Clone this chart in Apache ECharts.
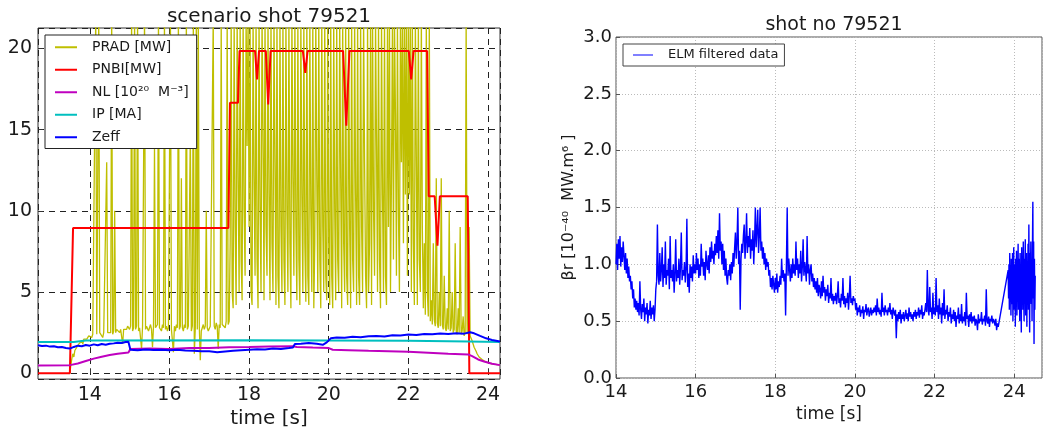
<!DOCTYPE html>
<html>
<head>
<meta charset="utf-8">
<script src="https://cdn.jsdelivr.net/npm/echarts@6/dist/echarts.min.js"></script>
<style>html,body{margin:0;padding:0;background:#fff}#c{width:1044px;height:434px}</style>
</head>
<body>
<div id="c"></div>
<script>
// ---- left panel data ----
const leftTitle = 'scenario shot 79521';
const rightTitle = 'shot no 79521';
const leftXTicks = [14, 16, 18, 20, 22, 24];
const leftYTicks = [0, 5, 10, 15, 20];

const pradStart = 13.5, pradStep = 0.025;
const pradValues = [
 0,0.5,0.9,1.2,1.0,1.4,1.3,1.6,1.5,1.8,1.7,1.9,2.0,1.8,2.1,2.0,2.2,2.1,2.2,2.3,
 2.2,2.3,2.2,2.4,2.3,2.5,22,2.4,2.3,22,2.5,2.4,2.6,2.2,2.5,2.6,2.4,13,2.5,2.6,
 2.6,2.5,22,2.4,2.6,10,2.5,2.7,2.6,2.8,2.5,2.7,2.6,1.8,2.7,2.8,2.6,2.7,2.9,2.8,
 2.7,2.9,22,2.6,2.8,22,2.7,2.9,22,2.6,2.8,2.7,1.5,2.9,2.8,22,2.7,2.9,2.8,2.6,
 2.8,3.0,2.7,1.6,2.9,14,2.8,2.7,3.0,22,2.8,2.9,2.6,3.0,2.8,22,2.7,2.9,2.6,2.8,
 2.9,22,2.7,2.8,1.3,2.9,2.6,3.0,2.8,22,2.7,2.9,12,2.8,2.6,3.0,2.8,22,2.7,2.9,
 2.8,15,2.6,2.9,22,1.2,2.8,22,2.7,22,2.9,0.8,2.6,2.8,3.0,2.7,2.9,10,2.8,2.6,
 2.7,2.9,3.0,2.8,22,2.9,2.7,3.1,2.9,1.5,3.0,2.8,22,3.0,2.9,3.1,2.8,3.2,22,3.0,
 3.2,8,22,5,4.0,22,9,4.2,22,12,5,22,7,4.5,22,10,6,22,14,22,
 9,22,5,4.2,22,12,6,22,7,4.0,22,10,5,22,15,4.5,22,9,6,22,
 11,4.5,22,8,5,22,13,4.2,22,6,4.0,22,9,5,22,7,4.2,22,10,5,
 22,8,4.0,22,12,6,22,9,4.5,22,7,4.2,22,11,5,22,8,4.4,22,6,
 4.2,22,10,5,22,4.0,8,22,12,5,22,7,4.0,22,9,5,22,6,4.5,22,
 8,4.2,22,6,4.0,22,10,4.5,22,7,5,22,12,4.0,22,8,5,22,6,4.2,
 22,9,4.0,22,7,5,22,11,4.2,22,6,4.2,22,9,5,22,13,6,4.0,22,
 5,8,22,4.2,22,10,6,22,14,5,22,7,4.0,22,11,5,22,6,4.2,22,
 9,22,5,12,22,7,22,16,6,22,10,5,22,13,22,8,22,11,22,6,
 22,11,22,5,22,8,4.2,22,13,4.2,22,7,5,22,9,4.0,8,3.6,22,5,
 3.5,22,3.2,4.5,3.0,8,3.3,2.9,12,3.1,2.8,5,2.9,12,3.0,2.7,6,2.8,2.6,4,
 2.7,10,2.6,2.8,5,2.5,2.7,8,2.6,2.4,4,2.5,9,2.4,2.6,3.5,2.3,2.5,22,2.4,
 2.5,9,2.3,2.2,2.0,1.8,1.6,1.5,1.35,1.2,1.1,1.0,0.95,0.9,0.85,0.8,0.75,0.72,0.7,0.68,
 0.66,0.64,0.62,0.6,0.58,0.57,0.56,0.55,0.54,0.53,0.52,0.51,0.5
];

const pnbi = [[12.7,0],[13.5,0],[13.58,8.95],[17.48,8.95],[17.52,16.65],[17.72,16.65],[17.76,19.85],
 [18.15,19.85],[18.2,18.1],[18.25,19.85],[18.42,19.85],[18.48,16.55],[18.54,19.85],
 [19.35,19.85],[19.41,18.5],[19.47,19.85],[20.36,19.85],[20.44,15.25],[20.52,19.85],
 [22.01,19.85],[22.07,18.1],[22.13,19.85],[22.47,19.85],[22.51,10.9],[22.66,10.9],[22.73,7.85],[22.79,10.9],
 [23.49,10.9],[23.53,0],[24.3,0]];

const nl = [[12.7,0.48],[13.5,0.5],[13.7,0.6],[13.9,0.75],[14.1,0.9],[14.3,1.02],[14.5,1.12],[14.7,1.2],
 [14.97,1.28],[15.02,1.5],[15.5,1.52],[16,1.5],[16.5,1.55],[17,1.56],[17.5,1.6],[18,1.62],[18.5,1.65],
 [19.1,1.66],[19.2,1.62],[19.6,1.58],[20.0,1.55],[20.1,1.45],[20.5,1.42],[21,1.38],[21.5,1.35],[22,1.32],
 [22.5,1.26],[23,1.2],[23.5,1.16],[23.6,1.05],[23.75,0.85],[23.9,0.72],[24.1,0.58],[24.3,0.5]];

const ip = [[12.7,1.92],[13.6,1.93],[13.9,2.02],[18,2.03],[22,2.0],[23.5,1.95],[24.3,1.92]];

const zeff = [[12.7,1.72],[12.8,1.68],[12.9,1.7],[13.0,1.64],[13.1,1.66],[13.2,1.6],[13.3,1.62],[13.4,1.55],
 [13.5,1.52],[13.6,1.62],[13.7,1.7],[13.8,1.66],[13.9,1.74],[14.0,1.7],[14.1,1.78],[14.2,1.72],[14.3,1.8],
 [14.4,1.76],[14.5,1.82],[14.6,1.84],[14.7,1.88],[14.8,1.86],[14.9,1.92],[14.97,1.94],[15.02,1.45],
 [15.2,1.42],[15.4,1.46],[15.6,1.43],[15.8,1.45],[16.0,1.42],[16.2,1.44],[16.4,1.4],[16.6,1.38],[16.8,1.35],
 [17.0,1.36],[17.2,1.3],[17.4,1.34],[17.6,1.38],[17.8,1.42],[18.0,1.45],[18.2,1.48],[18.4,1.46],[18.6,1.52],
 [18.8,1.5],[19.0,1.55],[19.1,1.58],[19.15,1.8],[19.3,1.82],[19.5,1.86],[19.7,1.82],[19.85,1.75],[19.95,1.9],
 [20.05,2.15],[20.2,2.2],[20.4,2.18],[20.6,2.25],[20.8,2.22],[21.0,2.28],[21.2,2.3],[21.4,2.26],[21.6,2.34],
 [21.8,2.32],[22.0,2.38],[22.2,2.35],[22.4,2.42],[22.6,2.4],[22.8,2.45],[23.0,2.42],[23.2,2.46],[23.4,2.44],
 [23.55,2.52],[23.65,2.46],[23.8,2.3],[23.95,2.15],[24.1,2.05],[24.3,1.95]];

// ---- right panel data ----
const betaStart1 = 14.0, betaStep1 = 0.02;
const betaValues1 = [
 1.0,1.18,0.95,1.22,1.05,1.25,0.98,1.15,1.02,1.2,1.08,0.95,1.1,0.92,1.05,0.88,0.98,0.85,0.9,0.78,0.85,0.7,0.78,0.62,0.7,
 0.6,0.68,0.58,0.66,0.55,0.85,0.6,0.52,0.65,0.58,0.7,0.5,0.62,0.56,0.66,0.48,0.6,0.55,0.68,0.52,0.62,0.56,0.64,0.5,0.6,
 0.78,0.85,1.35,0.9,0.82,1.1,0.85,0.95,1.15,0.8,1.0,0.88,1.2,0.82,0.95,0.9,1.05,0.78,1.25,0.88,0.95,0.85,1.0,0.75,0.92,
 1.22,0.85,0.95,0.88,1.05,0.82,0.98,1.28,0.86,0.95,0.9,1.02,0.84,0.96,1.4,0.8,0.92,0.75,1.0,0.88,0.98,0.85,1.08,0.92,1.0,
 0.92,1.1,0.95,1.05,0.88,1.0,0.9,1.18,0.98,1.05,0.9,1.02,0.86,1.12,1.0,0.95,1.08,0.92,1.15,1.02,1.2,1.05,1.12,1.0,1.18,
 1.08,1.25,1.1,1.3,1.05,1.45,1.12,1.2,1.0,1.18,0.95,1.12,0.9,1.05,0.88,0.82,0.95,0.9,1.0,0.86,1.02,0.92,1.1,0.98,1.15,
 1.28,1.05,1.2,1.5,1.0,1.12,0.6,1.05,1.18,1.1,1.25,1.35,1.05,1.2,1.45,1.1,1.25,1.15,1.32,1.05,1.22,1.12,1.3,1.0,1.2,
 1.5,1.15,1.3,1.48,1.1,1.25,1.5,1.12,1.2,1.05,1.15,1.0,1.1,0.95,1.05,0.98,1.02,0.9,0.95,0.8,0.88,0.78,0.9,0.82,0.75,
 0.88,0.78,0.92,0.75,0.85,0.8,0.9,0.82,1.05,0.88,0.95,0.85,0.92,0.55,1.0,1.5,0.9,1.05,0.95,0.85,1.0,0.88,1.05,0.92,1.0,
 0.9,1.2,0.95,1.05,0.88,1.0,0.92,1.12,0.85,0.98,1.22,0.9,1.02,0.95,0.85,1.25,0.92,1.0,0.82,0.95,1.0,0.85,0.92,0.8,0.88,
 0.78,0.85,0.75,0.88,0.72,0.82,0.78,0.7,0.85,0.72,0.9,0.75,0.8,0.68,0.78,0.72,0.82,0.66,0.75,0.7,0.88,0.68,0.74,0.65,0.72,
 0.68,0.75,0.65,0.72,0.85,0.66,0.7,0.62,0.74,0.68,0.88,0.65,0.72,0.62,0.7,0.66,0.75,0.6,0.72,0.9,0.66,0.7,0.64,0.72,0.68,
 0.7,0.6,0.66,0.55,0.62,0.58,0.64,0.54,0.6,0.57,0.63,0.52,0.6,0.58,0.65,0.55,0.6,0.62,0.54,0.58,0.62,0.55,0.6,0.57,0.62,
 0.58,0.64,0.55,0.7,0.58,0.62,0.56,0.6,0.54,0.75,0.58,0.62,0.55,0.64,0.58,0.6,0.55,0.62,0.58,0.66,0.56,0.6,0.52,0.62,0.58,
 0.55,0.6,0.35,0.56,0.5,0.58,0.52,0.6,0.48,0.56,0.52,0.58,0.5,0.55,0.6,0.52,0.57,0.5,0.62,0.54,0.58,0.52,0.56,0.5,0.58,
 0.54,0.6,0.52,0.58,0.55,0.62,0.53,0.6,0.56,0.64,0.52,0.58,0.55,0.6,0.66,0.58,0.95,0.6,0.55,0.8,0.58,0.62,0.52,0.75,0.56,
 0.62,0.55,0.88,0.58,0.64,0.52,0.7,0.56,0.62,0.48,0.66,0.55,0.78,0.52,0.6,0.56,0.64,0.5,0.58,0.54,0.62,0.48,0.56,0.52,0.6,
 0.5,0.58,0.45,0.55,0.52,0.62,0.48,0.56,0.5,0.65,0.48,0.54,0.5,0.58,0.46,0.75,0.52,0.55,0.45,0.56,0.5,0.58,0.48,0.54,0.5,
 0.55,0.46,0.52,0.5,0.42,0.56,0.48,0.52,0.5,0.58,0.47,0.52,0.5,0.55,0.46,0.78,0.5,0.48,0.54,0.45,0.52,0.5,0.55,0.48,0.52,
 0.5,0.46,0.52,0.42,0.48,0.45
];
const betaStart2 = 23.85, betaStep2 = 0.01;
const betaValues2 = [
 0.95,0.7,1.0,0.6,1.1,0.75,0.95,0.55,1.05,0.8,
 0.65,1.1,0.5,0.9,1.15,0.6,0.85,1.0,0.45,1.05,
 0.75,1.12,0.55,0.95,0.7,1.18,0.6,0.9,1.05,0.5,
 1.1,0.7,0.95,0.4,1.15,0.8,1.0,0.6,1.2,0.75,
 0.5,1.05,0.85,1.22,0.55,0.95,1.1,0.45,1.0,0.7,
 1.18,0.6,1.35,0.8,0.4,1.1,0.9,1.2,0.65,1.0,
 0.5,1.15,1.55,0.7,1.2,0.3,1.05,0.6,0.9
];

const F = '"DejaVu Sans", sans-serif';
const toPairs = (t0, dt, vals) => vals.map((v, i) => [+(t0 + i * dt).toFixed(3), v]);
const pradData = toPairs(pradStart, pradStep, pradValues);
const betaData = toPairs(betaStart1, betaStep1, betaValues1).concat(toPairs(betaStart2, betaStep2, betaValues2));

const chart = echarts.init(document.getElementById('c'), null, {renderer: 'canvas'});
const lineS = (name, data, color, w, z) => ({
  name, type: 'line', data, xAxisIndex: 0, yAxisIndex: 0, showSymbol: false, symbol: 'none',
  lineStyle: {color, width: w}, itemStyle: {color}, z, animation: false, clip: true
});

chart.setOption({
  animation: false,
  backgroundColor: '#fff',
  grid: [
    {left: 38, top: 28, width: 462, height: 360, show: true, borderColor: '#333', borderWidth: 1, backgroundColor: 'transparent'},
    {left: 616, top: 37, width: 426, height: 341, show: true, borderColor: '#555', borderWidth: 1, backgroundColor: 'transparent'}
  ],
  graphic: [
    {type: 'text', x: 269, y: 17, style: {text: leftTitle, font: '20px ' + F, fill: '#1a1a1a', textAlign: 'center', textVerticalAlign: 'middle'}},
    {type: 'text', x: 834, y: 25, style: {text: rightTitle, font: '19px ' + F, fill: '#1a1a1a', textAlign: 'center', textVerticalAlign: 'middle'}}
  ],
  xAxis: [
    {gridIndex: 0, type: 'value', min: 12.7, max: 24.3,
     name: 'time [s]', nameLocation: 'middle', nameGap: 23, nameTextStyle: {fontFamily: F, fontSize: 20, color: '#1a1a1a'},
     axisLine: {show: false}, axisTick: {show: true, inside: true, length: 5, lineStyle: {color: '#333'}},
     axisLabel: {fontFamily: F, fontSize: 19, color: '#1a1a1a', margin: 6, showMinLabel: false, showMaxLabel: false,
       formatter: v => (leftXTicks.indexOf(v) >= 0 ? String(v) : '')},
     splitLine: {show: true, lineStyle: {color: '#222', type: [6, 5], width: 1}}},
    {gridIndex: 1, type: 'value', min: 14, max: 24.7, interval: 2,
     name: 'time [s]', nameLocation: 'middle', nameGap: 22, nameTextStyle: {fontFamily: F, fontSize: 17, color: '#1a1a1a'},
     axisLine: {show: false}, axisTick: {show: true, inside: true, length: 4, lineStyle: {color: '#555'}},
     axisLabel: {fontFamily: F, fontSize: 18, color: '#1a1a1a', margin: 5, showMaxLabel: false},
     splitLine: {show: true, lineStyle: {color: '#bbb', type: [1, 2], width: 1}}}
  ],
  yAxis: [
    {gridIndex: 0, type: 'value', min: -0.36, max: 21.26,
     axisLine: {show: false}, axisTick: {show: true, inside: true, length: 5, lineStyle: {color: '#333'}},
     axisLabel: {fontFamily: F, fontSize: 19, color: '#1a1a1a', margin: 6, showMinLabel: false, showMaxLabel: false,
       formatter: v => (leftYTicks.indexOf(v) >= 0 ? String(v) : '')},
     splitLine: {show: true, lineStyle: {color: '#222', type: [6, 5], width: 1}}},
    {gridIndex: 1, type: 'value', min: 0, max: 3, interval: 0.5,
     name: 'βr [10⁻⁴⁰  MW.m⁶ ]', nameLocation: 'middle', nameGap: 39,
     nameTextStyle: {fontFamily: F, fontSize: 16, color: '#1a1a1a'},
     axisLine: {show: false}, axisTick: {show: true, inside: true, length: 4, lineStyle: {color: '#555'}},
     axisLabel: {fontFamily: F, fontSize: 18, color: '#1a1a1a', margin: 4, formatter: v => v.toFixed(1)},
     splitLine: {show: true, lineStyle: {color: '#bbb', type: [1, 2], width: 1}}}
  ],
  legend: [
    {left: 45, top: 35, orient: 'vertical', padding: [1, 8, 0, 10], itemGap: 0, itemWidth: 22, itemHeight: 2,
     icon: 'rect', borderColor: '#222', borderWidth: 1, backgroundColor: '#fff', selectedMode: false, z: 10,
     textStyle: {fontFamily: F, fontSize: 14, color: '#1a1a1a', lineHeight: 22.5, padding: [0, 0, 0, 10]},
     data: ['PRAD [MW]', 'PNBI[MW]', 'NL [10²⁰  M⁻³]', 'IP [MA]', 'Zeff']},
    {left: 623, top: 44, orient: 'vertical', padding: [0, 6, 0, 10], itemGap: 0, itemWidth: 20, itemHeight: 1,
     icon: 'rect', borderColor: '#444', borderWidth: 1, backgroundColor: '#fff', selectedMode: false, z: 10,
     textStyle: {fontFamily: F, fontSize: 13, color: '#1a1a1a', lineHeight: 22, padding: [0, 0, 0, 10]},
     data: ['ELM filtered data']}
  ],
  series: [
    lineS('PRAD [MW]', pradData, '#bfbf00', 1.3, 2),
    lineS('PNBI[MW]', pnbi, '#ff0000', 2, 3),
    lineS('NL [10²⁰  M⁻³]', nl, '#bf00bf', 2, 3),
    lineS('IP [MA]', ip, '#00bfbf', 2, 3),
    lineS('Zeff', zeff, '#0000ff', 2, 4),
    {name: 'ELM filtered data', type: 'line', data: betaData, xAxisIndex: 1, yAxisIndex: 1, showSymbol: false, symbol: 'none',
     lineStyle: {color: '#0000ff', width: 1.4}, itemStyle: {color: '#0000ff'}, animation: false}
  ]
});
</script>
</body>
</html>
